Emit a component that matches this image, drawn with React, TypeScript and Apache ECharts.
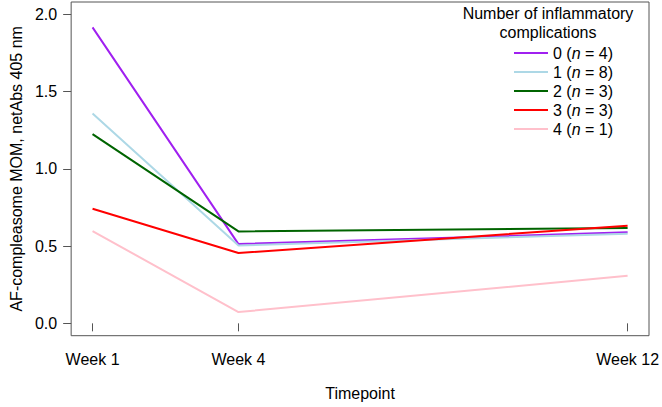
import React, { useEffect, useRef } from "react";
import * as echarts from "echarts";

const weeks = [1, 4, 12];
const weekTicks = [1, 4, 12];
const yTicks = [0, 0.5, 1, 1.5, 2];
const groupNames = ["0", "1", "2", "3", "4"];
const groupCounts = [4, 8, 3, 3, 1];
const groupColors = ["#A020F0", "#ADD8E6", "#006400", "#FF0000", "#FFC0CB"];
const values0 = [1.916, 0.513, 0.589];
const values1 = [1.359, 0.504, 0.58];
const values2 = [1.225, 0.595, 0.617];
const values3 = [0.742, 0.455, 0.632];
const values4 = [0.597, 0.073, 0.308];
const allValues = [values0, values1, values2, values3, values4];

const FONT = "Liberation Sans, Arial, Helvetica, sans-serif";
const FS = 16;

export default function App() {
  const ref = useRef<HTMLDivElement>(null);
  useEffect(() => {
    if (!ref.current) return;
    const chart = echarts.init(ref.current, undefined, { renderer: "svg" });
    const countMap: Record<string, number> = {};
    groupNames.forEach((n, i) => (countMap[n] = groupCounts[i]));
    chart.setOption({
      animation: false,
      textStyle: { fontFamily: FONT, color: "#000" },
      grid: {
        left: 70.2,
        right: 11.2,
        top: 2,
        bottom: 71.3,
        show: true,
        borderColor: "#555",
        borderWidth: 1,
        backgroundColor: "transparent",
      },
      xAxis: {
        type: "value",
        min: 0.56,
        max: 12.44,
        name: "Timepoint",
        nameLocation: "middle",
        nameGap: 50,
        nameTextStyle: { fontSize: FS, color: "#000", fontFamily: FONT },
        axisLine: { show: false },
        splitLine: { show: false },
        axisTick: {
          show: true,
          length: 8,
          lineStyle: { color: "#555" },
          customValues: weekTicks,
        },
        axisLabel: {
          fontSize: FS,
          color: "#000",
          margin: 16,
          fontFamily: FONT,
          customValues: weekTicks,
          formatter: (v: number) => "Week " + v,
        },
      },
      yAxis: {
        type: "value",
        min: -0.08,
        max: 2.08,
        name: "AF-compleasome MOM, netAbs 405 nm",
        nameLocation: "middle",
        nameGap: 46,
        nameTextStyle: { fontSize: FS, color: "#000", fontFamily: FONT },
        axisLine: { show: false },
        splitLine: { show: false },
        axisTick: {
          show: true,
          length: 8,
          lineStyle: { color: "#555" },
          customValues: yTicks,
        },
        axisLabel: {
          fontSize: FS,
          color: "#000",
          margin: 14,
          fontFamily: FONT,
          customValues: yTicks,
          formatter: (v: number) => v.toFixed(1),
        },
      },
      legend: {
        orient: "vertical",
        left: 509,
        top: 40,
        itemWidth: 34,
        itemHeight: 2,
        itemGap: 3,
        icon: "rect",
        data: groupNames,
        formatter: (name: string) =>
          "{a|" + name + " (}{i|n}{a| = " + countMap[name] + ")}",
        textStyle: {
          fontSize: FS,
          lineHeight: 16,
          color: "#000",
          fontFamily: FONT,
          rich: {
            a: { fontSize: FS, lineHeight: 16, color: "#000", fontFamily: FONT },
            i: { fontSize: FS, lineHeight: 16, color: "#000", fontStyle: "italic", fontFamily: FONT },
          },
        },
      },
      graphic: [
        {
          type: "text",
          x: 548,
          y: 3.5,
          style: {
            text: "Number of inflammatory\ncomplications",
            fontSize: FS,
            lineHeight: 19,
            fontFamily: FONT,
            fill: "#000",
            align: "center",
            verticalAlign: "top",
          },
        },
      ],
      series: groupNames.map((name, i) => ({
        name,
        type: "line",
        data: weeks.map((w, j) => [w, allValues[i][j]]),
        showSymbol: false,
        symbol: "none",
        lineStyle: { color: groupColors[i], width: 2 },
        itemStyle: { color: groupColors[i] },
      })),
    });
    return () => chart.dispose();
  }, []);
  return <div ref={ref} style={{ width: 662, height: 407, position: "absolute", left: 0, top: 0 }} />;
}
